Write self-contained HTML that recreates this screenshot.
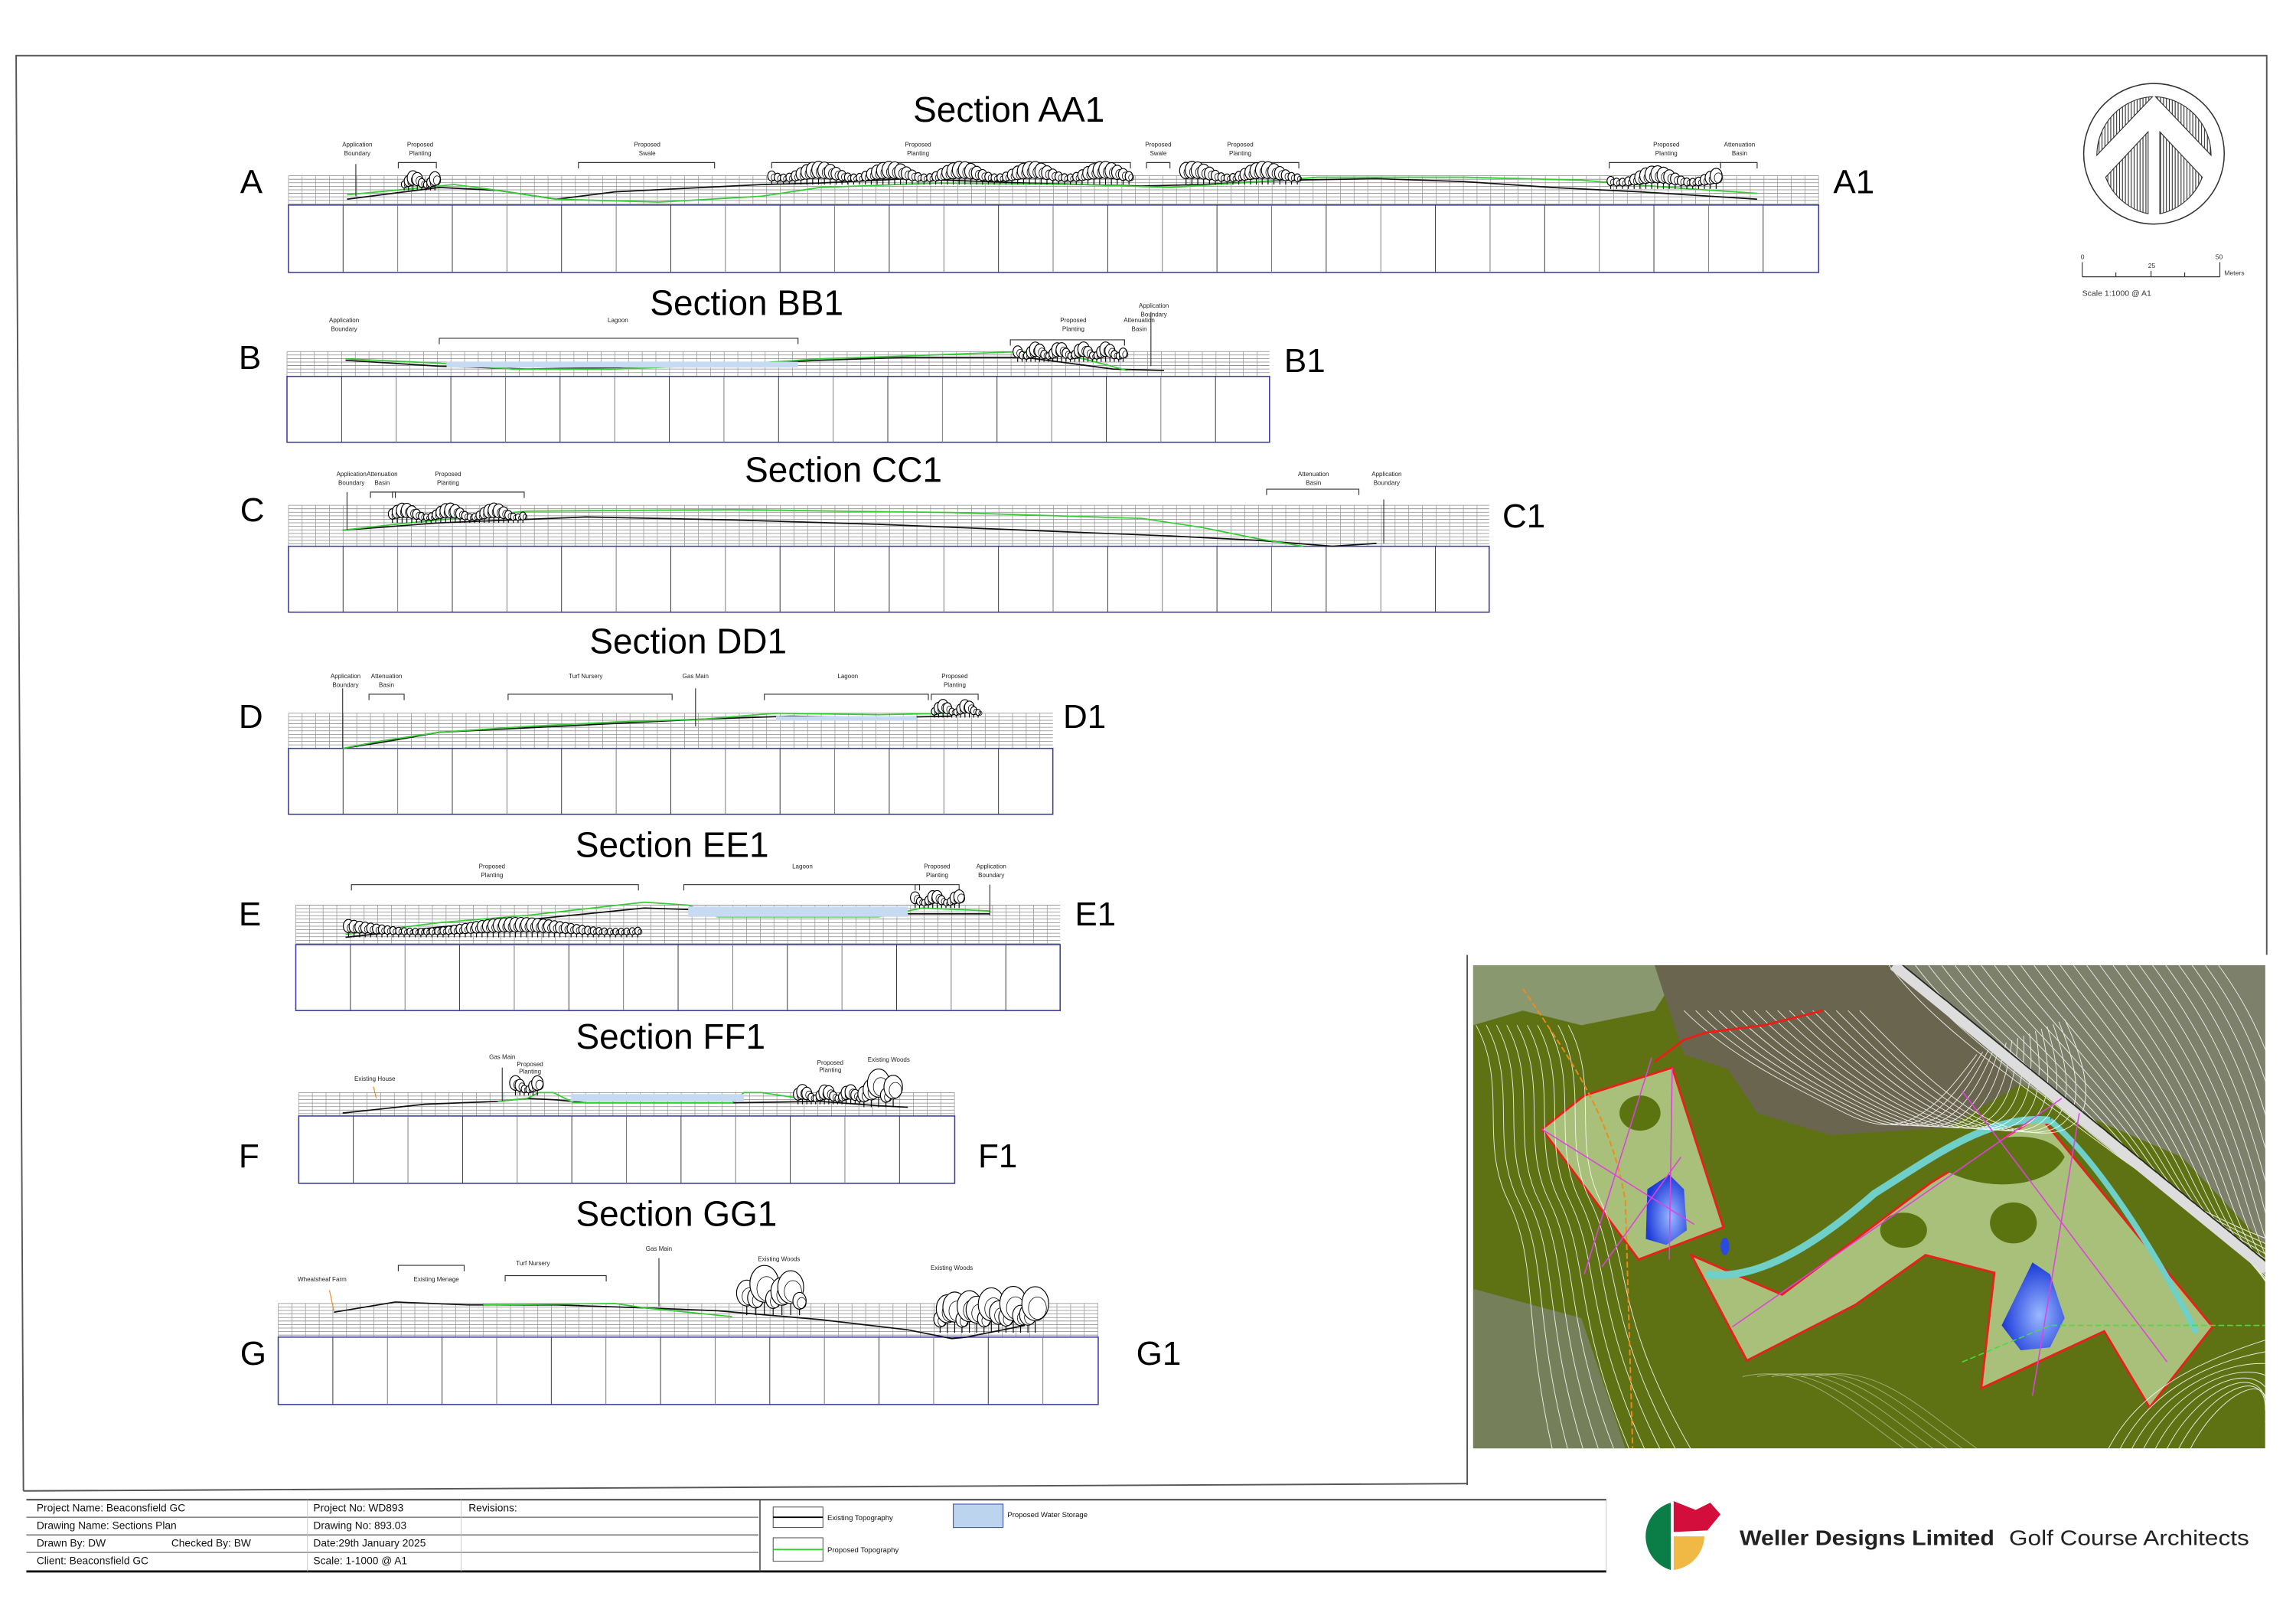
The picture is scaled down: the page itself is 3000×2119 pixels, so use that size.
<!DOCTYPE html>
<html><head><meta charset="utf-8"><style>
html,body{margin:0;padding:0;background:#fff;}
svg{display:block;}
text{font-family:"Liberation Sans",sans-serif;}
.t{font-size:24px;text-anchor:middle;}
.L{font-size:23px;}
.s{font-size:4.2px;text-anchor:middle;fill:#222;}
.tb{font-size:7.2px;fill:#111;}
</style></head><body>
<svg id="svg" xmlns="http://www.w3.org/2000/svg" width="3000" height="2119" viewBox="0 0 1568 1107.5" preserveAspectRatio="none">
<rect width="1568" height="1108" fill="#fff"/>
<polyline points="16,1018 11,38 1548,38 1548,652" fill="none" stroke="#555" stroke-width="1"/>
<line x1="16" y1="1018" x2="1002" y2="1013" stroke="#555" stroke-width="1"/>
<g id="sections"></g>
<g id="trees"></g>

<text class="t" x="689" y="83">Section AA1</text>
<text class="t" x="510" y="215">Section BB1</text>
<text class="t" x="576" y="329">Section CC1</text>
<text class="t" x="470" y="446">Section DD1</text>
<text class="t" x="459" y="585">Section EE1</text>
<text class="t" x="458" y="716">Section FF1</text>
<text class="t" x="462" y="837">Section GG1</text>
<text class="L" x="164" y="132">A</text><text class="L" x="1252" y="132">A1</text>
<text class="L" x="163" y="252">B</text><text class="L" x="877" y="254">B1</text>
<text class="L" x="164" y="356">C</text><text class="L" x="1026" y="360">C1</text>
<text class="L" x="163" y="497">D</text><text class="L" x="726" y="497">D1</text>
<text class="L" x="163" y="632">E</text><text class="L" x="734" y="632">E1</text>
<text class="L" x="163" y="797">F</text><text class="L" x="668" y="797">F1</text>
<text class="L" x="164" y="932">G</text><text class="L" x="776" y="932">G1</text>

<g class="s">
<text x="244" y="100">Application</text><text x="244" y="106">Boundary</text>
<text x="287" y="100">Proposed</text><text x="287" y="106">Planting</text>
<text x="442" y="100">Proposed</text><text x="442" y="106">Swale</text>
<text x="627" y="100">Proposed</text><text x="627" y="106">Planting</text>
<text x="791" y="100">Proposed</text><text x="791" y="106">Swale</text>
<text x="847" y="100">Proposed</text><text x="847" y="106">Planting</text>
<text x="1138" y="100">Proposed</text><text x="1138" y="106">Planting</text>
<text x="1188" y="100">Attenuation</text><text x="1188" y="106">Basin</text>
<text x="235" y="220">Application</text><text x="235" y="226">Boundary</text>
<text x="422" y="220">Lagoon</text>
<text x="733" y="220">Proposed</text><text x="733" y="226">Planting</text>
<text x="788" y="210">Application</text><text x="788" y="216">Boundary</text>
<text x="778" y="220">Attenuation</text><text x="778" y="226">Basin</text>
<text x="240" y="325">Application</text><text x="240" y="331">Boundary</text>
<text x="261" y="325">Attenuation</text><text x="261" y="331">Basin</text>
<text x="306" y="325">Proposed</text><text x="306" y="331">Planting</text>
<text x="897" y="325">Attenuation</text><text x="897" y="331">Basin</text>
<text x="947" y="325">Application</text><text x="947" y="331">Boundary</text>
<text x="236" y="463">Application</text><text x="236" y="469">Boundary</text>
<text x="264" y="463">Attenuation</text><text x="264" y="469">Basin</text>
<text x="400" y="463">Turf Nursery</text>
<text x="475" y="463">Gas Main</text>
<text x="579" y="463">Lagoon</text>
<text x="652" y="463">Proposed</text><text x="652" y="469">Planting</text>
<text x="336" y="593">Proposed</text><text x="336" y="599">Planting</text>
<text x="548" y="593">Lagoon</text>
<text x="640" y="593">Proposed</text><text x="640" y="599">Planting</text>
<text x="677" y="593">Application</text><text x="677" y="599">Boundary</text>
<text x="256" y="738">Existing House</text>
<text x="343" y="723">Gas Main</text>
<text x="362" y="728">Proposed</text><text x="362" y="733">Planting</text>
<text x="567" y="727">Proposed</text><text x="567" y="732">Planting</text>
<text x="607" y="725">Existing Woods</text>
<text x="220" y="875">Wheatsheaf Farm</text>
<text x="298" y="875">Existing Menage</text>
<text x="364" y="864">Turf Nursery</text>
<text x="450" y="854">Gas Main</text>
<text x="532" y="861">Existing Woods</text>
<text x="650" y="867">Existing Woods</text>
</g>

<g transform="translate(1471,105)">
<defs><pattern id="hat" width="2" height="4" patternUnits="userSpaceOnUse"><rect width="2" height="4" fill="#fff"/><line x1="0.5" y1="0" x2="0.5" y2="4" stroke="#333" stroke-width="0.6"/></pattern></defs>
<circle r="48" fill="#fff" stroke="#333" stroke-width="0.8"/>
<path d="M-39,1 A40,40 0 0 1 -1,-39 Z" fill="url(#hat)" stroke="#333" stroke-width="0.6"/>
<path d="M1,-39 A40,40 0 0 1 39,1 Z" fill="url(#hat)" stroke="#333" stroke-width="0.6"/>
<path d="M-33,16 L-4,-15 L-4,41 A40,40 0 0 1 -33,16 Z" fill="url(#hat)" stroke="#333" stroke-width="0.6"/>
<path d="M33,16 L4,-15 L4,41 A40,40 0 0 0 33,16 Z" fill="url(#hat)" stroke="#333" stroke-width="0.6"/>
</g>
<g stroke="#333" stroke-width="0.6">
<line x1="1422" y1="189" x2="1516" y2="189"/>
<line x1="1422" y1="179" x2="1422" y2="189"/><line x1="1516" y1="179" x2="1516" y2="189"/>
<line x1="1469" y1="185" x2="1469" y2="189"/><line x1="1445" y1="186" x2="1445" y2="189"/><line x1="1492" y1="186" x2="1492" y2="189"/>
</g>
<g font-size="4.5" fill="#333"><text x="1421" y="177">0</text><text x="1467" y="183">25</text><text x="1513" y="177">50</text><text x="1519" y="188">Meters</text>
<text x="1422" y="202" font-size="5.5">Scale 1:1000 @ A1</text></g>

<g id="map">
<rect x="1002" y="652" width="546" height="338" fill="#fff"/>
<line x1="1002" y1="652" x2="1002" y2="1014" stroke="#555" stroke-width="1"/>
<clipPath id="mc"><rect x="1006" y="659" width="541" height="330"/></clipPath>
<g clip-path="url(#mc)">
<rect x="1006" y="659" width="541" height="330" fill="#5e7214"/>
<path d="M1006,659 L1150,659 L1130,690 L1080,700 L1040,690 L1006,700 Z" fill="#8a9870"/>
<path d="M1130,659 L1300,659 L1380,740 L1330,770 L1250,775 L1200,760 L1180,730 L1150,720 L1140,690 Z" fill="#69654e"/>
<path d="M1300,659 L1547,659 L1547,850 L1490,790 L1420,760 L1380,740 Z" fill="#7d806a"/>
<path d="M1006,880 L1080,900 L1110,989 L1006,989 Z" fill="#75805a"/>
<path d="M1053,771 L1082,748 L1142,729 L1177,838 L1119,860 Z" fill="#a8c07a" stroke="#e8201a" stroke-width="1.5"/>
<path d="M1155,857 L1217,884 L1318,808 L1393,762 L1511,906 L1468,961 L1437,909 L1353,948 L1362,869 L1315,857 L1267,891 L1193,929 Z" fill="#a8c07a" stroke="#e8201a" stroke-width="1.5"/>
<path d="M1165,870 C1200,875 1240,850 1280,815 C1320,790 1360,760 1400,765" fill="none" stroke="#6ed0c8" stroke-width="5"/>
<path d="M1400,765 C1430,790 1470,850 1500,910" fill="none" stroke="#6ed0c8" stroke-width="4"/>
<path d="M1330,800 C1350,770 1400,770 1410,790 C1400,810 1360,815 1330,800 Z" fill="#5c7410"/>
<ellipse cx="1300" cy="840" rx="16" ry="12" fill="#5c7410"/>
<ellipse cx="1375" cy="835" rx="16" ry="14" fill="#5c7410"/>
<ellipse cx="1120" cy="760" rx="14" ry="12" fill="#5c7410"/>
<defs><radialGradient id="wg" cx="0.6" cy="0.6" r="0.6"><stop offset="0" stop-color="#9ab8ff"/><stop offset="1" stop-color="#1c3ad8"/></radialGradient></defs>
<path d="M1125,812 L1140,802 L1150,812 L1152,840 L1138,850 L1124,846 Z" fill="url(#wg)"/>
<path d="M1388,862 L1400,870 L1410,900 L1400,920 L1380,922 L1367,905 Z" fill="url(#wg)"/>
<ellipse cx="1178" cy="851" rx="3" ry="6" fill="#2a4ae0"/>
<g id="cont" fill="none" stroke="#fff" stroke-width="0.5" opacity="0.85"></g>
<path d="M1293,659 L1548,867" stroke="#ddd" stroke-width="7"/>
<path d="M1297,657 L1552,865" stroke="#222" stroke-width="0.8"/>
<path d="M1040,675 C1070,720 1100,760 1110,820 L1115,989" fill="none" stroke="#f08a1a" stroke-width="1" stroke-dasharray="4,2"/>
<g stroke="#e040e0" stroke-width="0.8" fill="none">
<path d="M1053,771 L1157,836 M1142,729 L1140,860 M1094,865 L1148,790 M1082,870 L1128,722 M1183,906 L1408,750 M1388,953 L1420,760 M1340,745 L1480,930"/>
</g>
<path d="M1130,725 L1150,710 L1165,705 L1205,700 L1245,690" fill="none" stroke="#e8201a" stroke-width="1.5"/>
<path d="M1340,930 L1400,905 L1547,905" fill="none" stroke="#40e040" stroke-width="0.8" stroke-dasharray="4,2"/>
</g>
</g>

<g stroke="#444" fill="none">
<line x1="18" y1="1024" x2="1097" y2="1024" stroke-width="1"/>
<line x1="18" y1="1073" x2="1097" y2="1073" stroke-width="1.5" stroke="#111"/>
<line x1="18" y1="1036" x2="518" y2="1036" stroke-width="0.8" stroke="#888"/>
<line x1="18" y1="1048" x2="518" y2="1048" stroke-width="0.6"/>
<line x1="18" y1="1060" x2="518" y2="1060" stroke-width="0.8" stroke="#888"/>
<line x1="210" y1="1024" x2="210" y2="1073" stroke-width="0.4" stroke="#bbb"/>
<line x1="315" y1="1024" x2="315" y2="1073" stroke-width="0.4" stroke="#bbb"/>
<line x1="519" y1="1024" x2="519" y2="1073" stroke-width="0.8"/>
<line x1="1097" y1="1024" x2="1097" y2="1073" stroke-width="0.4" stroke="#bbb"/>
<rect x="528" y="1029" width="34" height="14" stroke-width="0.5"/>
<line x1="528" y1="1036" x2="562" y2="1036" stroke="#000" stroke-width="1"/>
<rect x="528" y="1050" width="34" height="16" stroke-width="0.5"/>
<line x1="528" y1="1058" x2="562" y2="1058" stroke="#3c3" stroke-width="1"/>
<rect x="651" y="1027" width="34" height="16" fill="#bcd4ee" stroke="#4a5ab0" stroke-width="0.6"/>
</g>
<g class="tb">
<text x="25" y="1032">Project Name: Beaconsfield GC</text>
<text x="214" y="1032">Project No: WD893</text>
<text x="320" y="1032">Revisions:</text>
<text x="25" y="1044">Drawing Name: Sections Plan</text>
<text x="214" y="1044">Drawing No: 893.03</text>
<text x="25" y="1056">Drawn By: DW</text>
<text x="117" y="1056">Checked By: BW</text>
<text x="214" y="1056">Date:29th January 2025</text>
<text x="25" y="1068">Client: Beaconsfield GC</text>
<text x="214" y="1068">Scale: 1-1000 @ A1</text>
<text x="565" y="1038" font-size="5">Existing Topography</text>
<text x="565" y="1060" font-size="5">Proposed Topography</text>
<text x="688" y="1036" font-size="5">Proposed Water Storage</text>
</g>
<path d="M1141,1026 A24,24 0 0 0 1141,1072 Z" fill="#0b7d47"/>
<path d="M1143,1025 L1158,1031 L1168,1026 L1175,1034 L1166,1045 L1143,1046 Z" fill="#d40e3c"/>
<path d="M1143,1049 L1164,1049 A24,24 0 0 1 1143,1072 Z" fill="#f0b845"/>
<text x="1188" y="1055" font-size="14.5" font-weight="bold" fill="#222" textLength="174" lengthAdjust="spacingAndGlyphs">Weller Designs Limited</text>
<text x="1372" y="1055" font-size="14.5" fill="#222" textLength="164" lengthAdjust="spacingAndGlyphs">Golf Course Architects</text>
</svg>
<script>
const NS="http://www.w3.org/2000/svg";
const G=document.getElementById('sections'),T=document.getElementById('trees'),C=document.getElementById('cont');
function el(tag,a,p){const e=document.createElementNS(NS,tag);for(const k in a)e.setAttribute(k,a[k]);(p||G).appendChild(e);return e;}
for(let i=0;i<26;i++){const o=i*9;el('path',{d:`M${1290+o},659 C${1320+o},700 ${1380+o*0.8},740 ${1420+o*0.7},${770+o*0.3} S${1500+o*0.4},${830+o*0.2} 1560,${850+o*0.5}`},C);}
for(let i=0;i<16;i++){const o=i*8;el('path',{d:`M${1150+o},690 C${1180+o},720 ${1220+o},${740+o*0.2} ${1260+o},${760+o*0.1} S${1320+o},${760} ${1350+o*0.5},${720-o*0.2}`},C);}
for(let i=0;i<10;i++){const o=i*7;el('path',{d:`M${1008+o},700 C${1030+o},740 ${1010+o},780 ${1030+o},820 S${1040+o},900 ${1060+o*1.5},989`},C);}
for(let i=0;i<8;i++){const o=i*8;el('path',{d:`M${1440+o},989 C${1460+o},950 ${1500+o},930 1547,${915+o}`},C);}
for(let i=0;i<6;i++){const o=i*10;el('path',{d:`M${1190+o},940 C${1230+o},930 ${1260+o},960 ${1300+o},989`,opacity:0.5},C);}
function sec(x0,x1,g0,g1,b){
 for(let y=g0;y<=g1;y+=2.4)el('line',{x1:x0,x2:x1,y1:y,y2:y,stroke:'#888','stroke-width':0.4});
 for(let x=x0;x<=x1;x+=9.33)el('line',{x1:x,x2:x,y1:g0,y2:g1,stroke:'#999','stroke-width':0.4});
 el('rect',{x:x0,y:g1,width:x1-x0,height:b-g1,fill:'none',stroke:'#3a3aa0','stroke-width':0.8});
 let i=0;for(let x=x0+37.3;x<x1-2;x+=37.3){i++;el('line',{x1:x,x2:x,y1:g1,y2:b,stroke:i%2?'#333':'#777','stroke-width':0.5});}
}
function line(pts,c,w){el('polyline',{points:pts,fill:'none',stroke:c,'stroke-width':w||0.9});}
function br(x1,x2,y){el('polyline',{points:`${x1},${y+4} ${x1},${y} ${x2},${y} ${x2},${y+4}`,fill:'none',stroke:'#333','stroke-width':0.6});}
function vl(x,y1,y2){el('line',{x1:x,x2:x,y1:y1,y2:y2,stroke:'#333','stroke-width':0.6});}
function trees(x1,x2,yb,h,step){
 for(let x=x1;x<=x2;x+=step){const hh=h*(0.8+0.3*Math.sin(x*1.7));
  el('line',{x1:x,x2:x,y1:yb,y2:yb-hh*0.5,stroke:'#000','stroke-width':0.6},T);
  el('ellipse',{cx:x,cy:yb-hh*0.65,rx:hh*0.3,ry:hh*0.38,fill:'#fff',stroke:'#000','stroke-width':0.6},T);
  el('ellipse',{cx:x+1.5,cy:yb-hh*0.55,rx:hh*0.2,ry:hh*0.25,fill:'none',stroke:'#000','stroke-width':0.4},T);}
}
sec(197,1242,120,140,186);
line('237,136 300,128 340,130 380,136 420,131 520,126 560,125 620,122 700,125 780,127 820,126 880,123 940,122 1000,124 1060,128 1120,131 1200,136','#111',0.9);
line('237,133 290,128 310,126 340,130 380,136 450,138 520,134 560,128 640,125 740,126 800,128 860,124 900,121 1000,121 1080,123 1140,128 1200,132','#3c3',0.9);
br(272,298,111);br(395,488,111);br(527,772,111);br(783,799,111);br(809,887,111);br(1099,1175,111);br(1175,1200,111);vl(243,112,134);
trees(276,298,130,12,3);trees(527,772,126,14,4);trees(810,887,126,14,4);trees(1100,1175,129,14,4);
sec(196,867,240,257,302);
line('236,246 300,250 360,252 420,251 500,249 560,246 620,244 700,244 760,252 795,253','#111',0.9);
line('236,245 300,248 350,252 420,252 500,249 560,245 620,243 700,240 740,245 770,253','#3c3',0.9);
el('rect',{x:305,y:247,width:240,height:4,fill:'#c6daf2',stroke:'none'});
br(300,545,231);br(690,768,232);vl(768,232,236);vl(786,213,250);
trees(695,768,247,12,3);
sec(197,1017,345,373,418);
line('234,362 300,357 400,353 500,355 600,358 700,362 800,366 860,369 910,373 940,371','#111',0.9);
line('234,362 270,358 360,349 500,348 650,350 780,354 820,360 860,368 890,373','#3c3',0.9);
br(253,270,336);br(268,358,336);br(865,928,334);vl(945,341,371);vl(237,336,362);
trees(268,358,357,12,3.3);
sec(197,719,487,511,556);
line('234,511 260,507 300,500 360,497 420,494 480,491 540,489 600,490 650,489','#111',0.9);
line('234,511 260,506 300,500 360,496 420,493 480,491 530,487 600,488 650,487','#3c3',0.9);
el('rect',{x:530,y:489,width:96,height:3,fill:'#c6daf2'});
br(252,276,474);br(347,459,474);br(522,634,474);br(636,668,474);vl(475,470,496);vl(234,470,511);
trees(638,668,490,11,3);
sec(202,724,618,645,690);
line('236,640 300,633 360,628 440,620 500,622 580,624 620,624 676,624','#111',0.9);
line('236,638 300,630 360,625 440,616 470,618 490,626 600,626 630,620 676,622','#3c3',0.9);
el('rect',{x:470,y:619,width:150,height:7,fill:'#c6daf2'});
br(240,436,604);br(467,628,604);br(625,655,604);vl(676,604,625);
trees(238,436,640,12,3.8);trees(625,655,620,11,3);
sec(204,652,746,762,808);
line('234,760 290,754 340,752 360,750 380,751 400,753 500,753 560,752 600,755 620,756','#111',0.9);
line('340,752 360,750 368,746 378,746 392,753 500,753 508,746 520,746 560,752','#3c3',0.9);
el('rect',{x:390,y:747,width:118,height:5,fill:'#c6daf2'});
vl(343,729,752);line('255,742 257,750','#f08a1a',0.6);
trees(352,367,748,12,3);trees(545,590,754,12,3);trees(590,610,756,24,5);
sec(190,750,890,913,959);
line('228,896 270,889 320,891 380,891 440,893 490,895 560,901 620,908 650,914 660,913 700,905','#111',0.9);
line('330,891 420,890 440,893 470,896 500,899','#3c3',0.9);
br(272,317,864);br(345,414,871);vl(450,859,892);line('225,881 228,895','#f08a1a',0.6);
trees(510,550,898,30,6);trees(642,710,910,28,5);
</script>
</body></html>
